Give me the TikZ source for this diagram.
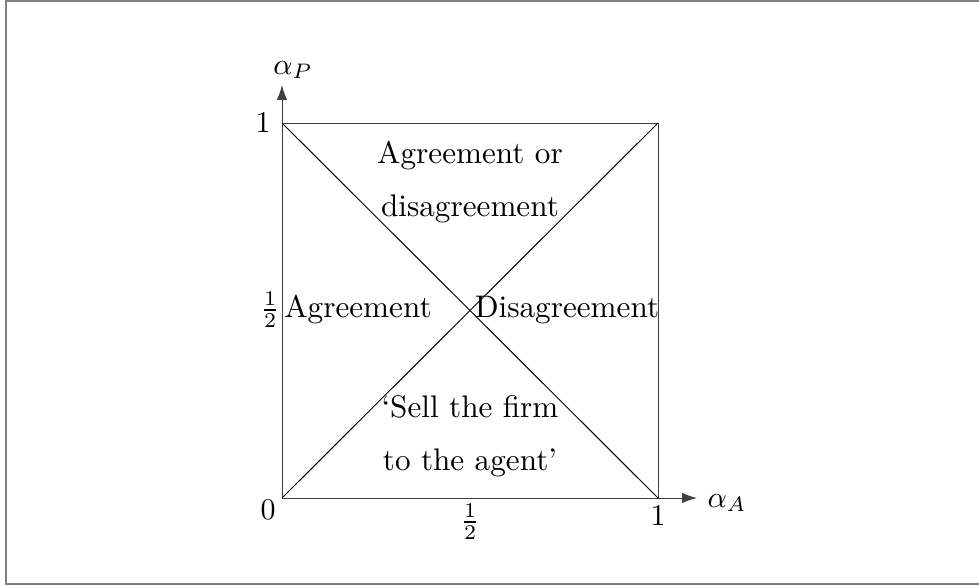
\documentclass[tikz,border=0pt]{standalone}
\usetikzlibrary{arrows.meta}
\begin{document}
\begin{tikzpicture}[x=0.33333pt,y=-0.33333pt,
  edge/.style={line width=0.33pt},
  axis/.style={line width=0.33pt,-{Latex[length=5pt,width=3.5pt]}},
  lbl/.style={inner sep=0pt},
  region/.style={inner sep=0pt,align=center,font=\fontsize{10.4}{12.5}\selectfont}]
\useasboundingbox (0,0) rectangle (979,586);
\draw[line width=0.6pt,gray] (990,1) -- (6,1) -- (6,584) -- (990,584);
\coordinate (O) at (282,498);
\coordinate (X1) at (658,498);
\coordinate (Y1) at (282,123);
\coordinate (C) at (658,123);
\coordinate (XT) at (697,498);
\coordinate (YT) at (282,85);
\draw[edge,black!75] (O) -- (X1) -- (C) -- (Y1) -- cycle;
\draw[edge] (O) -- (C);
\draw[edge] (Y1) -- (X1);
\draw[axis,black!75] (X1) -- (XT);
\draw[axis,black!75] (Y1) -- (YT);
\node[lbl,anchor=west] (ax) at (707,503) {$\alpha_A$};
\node[lbl] (ap) at (293,70) {$\alpha_P$};
\node[lbl] (one1) at (263,123) {$1$};
\node[lbl] (zero) at (268,510) {$0$};
\node[lbl] (one2) at (658,516) {$1$};
\node[lbl] (halfx) at (470,522) {$\frac{1}{2}$};
\node[lbl] (halfy) at (270,310) {$\frac{1}{2}$};
\node[region] (top) at (470,182) {Agreement or\\[5pt] disagreement};
\node[region] (left) at (358,310) {Agreement};
\node[region] (right) at (567,310) {Disagreement};
\node[region] (bot) at (470,436) {`Sell the firm\\[5pt] to the agent'};
\end{tikzpicture}
\end{document}
